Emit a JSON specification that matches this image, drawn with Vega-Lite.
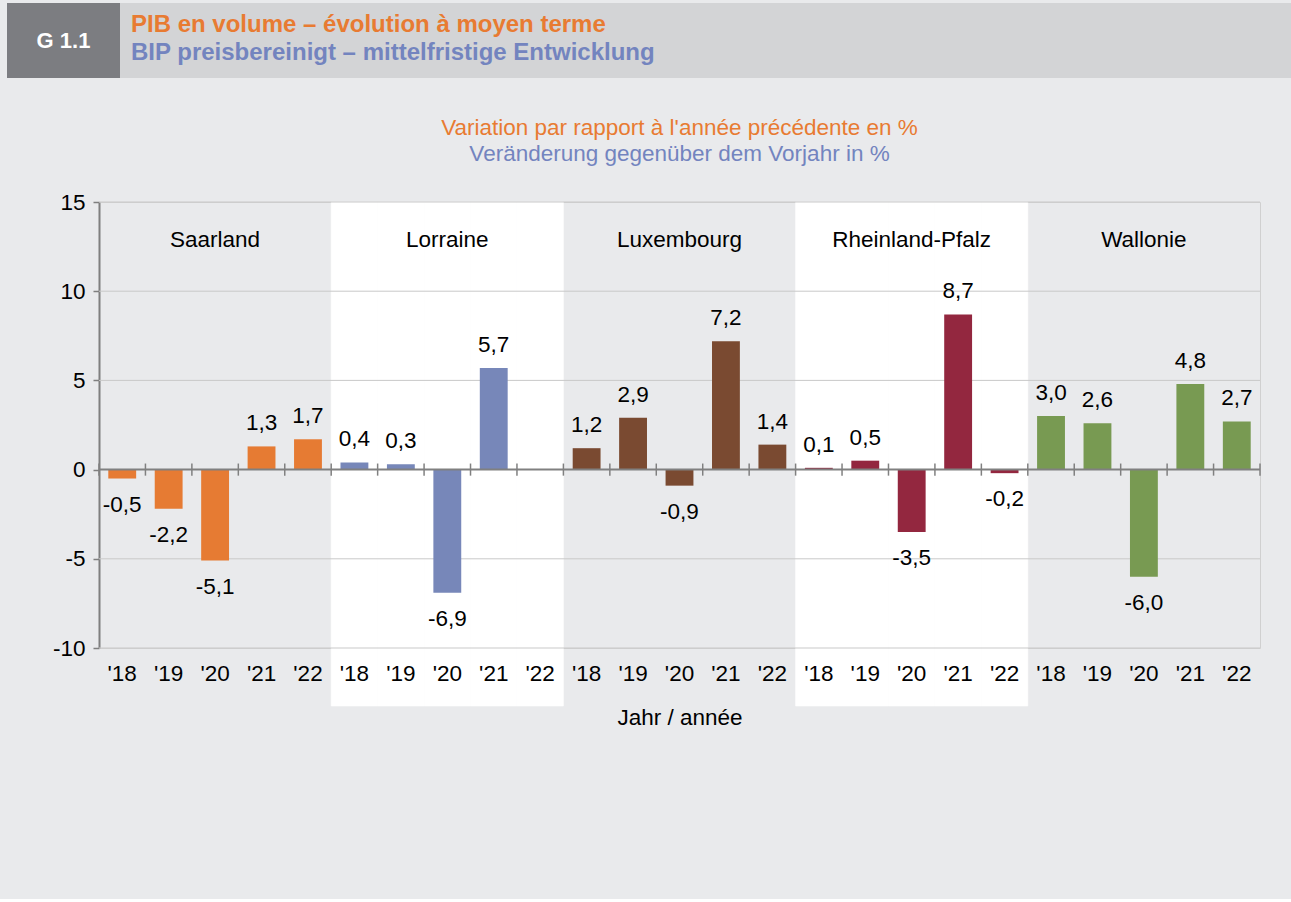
{
  "$schema": "https://vega.github.io/schema/vega-lite/v6.json",
  "background": "#e9eaec",
  "padding": {"left": 7, "top": 3, "right": 0, "bottom": 169},
  "config": {
    "font": "Liberation Sans",
    "locale": {"number": {"decimal": ",", "thousands": ".", "grouping": [3], "currency": ["", " €"], "minus": "-"}},
    "view": {"stroke": null}
  },
  "spacing": 38,
  "vconcat": [
    {
      "spacing": 0,
      "hconcat": [
        {
          "width": 113, "height": 75,
          "view": {"fill": "#7c7d81", "stroke": null},
          "data": {"values": [{"t": "G 1.1"}]},
          "mark": {"type": "text", "color": "white", "fontWeight": "bold", "fontSize": 22, "align": "center", "baseline": "middle"},
          "encoding": {"text": {"field": "t"}}
        },
        {
          "width": 1171, "height": 75,
          "view": {"fill": "#d3d4d6", "stroke": null},
          "title": {
            "text": "PIB en volume – évolution à moyen terme",
            "subtitle": "BIP preisbereinigt – mittelfristige Entwicklung",
            "anchor": "start", "frame": "group", "orient": "top", "offset": -62, "dx": 11,
            "fontSize": 24, "fontWeight": "bold", "color": "#e87b32",
            "subtitleFontSize": 24, "subtitleFontWeight": "bold", "subtitleColor": "#7384bf", "subtitlePadding": 4
          },
          "data": {"values": [{"t": ""}]},
          "mark": {"type": "text"},
          "encoding": {"text": {"field": "t"}}
        }
      ]
    },
    {
      "spacing": 0,
      "hconcat": [
        {
          "width": 0, "height": 0,
          "data": {"values": [{"t": ""}]},
          "mark": {"type": "text"},
          "encoding": {"text": {"field": "t"}}
        },
        {
          "width": 1161, "height": 446,
          "view": {"stroke": "#d0d0d0", "fill": null},
          "title": {
            "text": "Variation par rapport à l'année précédente en %",
            "subtitle": "Veränderung gegenüber dem Vorjahr in %",
            "anchor": "middle", "frame": "group", "offset": 26,
            "fontSize": 22.5, "fontWeight": "normal", "color": "#e87b32",
            "subtitleFontSize": 22.5, "subtitleColor": "#7384bf", "subtitlePadding": 3
          },
          "data": {"values": [
            {"region": "Saarland", "year": 2018, "value": -0.5},
            {"region": "Saarland", "year": 2019, "value": -2.2},
            {"region": "Saarland", "year": 2020, "value": -5.1},
            {"region": "Saarland", "year": 2021, "value": 1.3},
            {"region": "Saarland", "year": 2022, "value": 1.7},
            {"region": "Lorraine", "year": 2018, "value": 0.4},
            {"region": "Lorraine", "year": 2019, "value": 0.3},
            {"region": "Lorraine", "year": 2020, "value": -6.9},
            {"region": "Lorraine", "year": 2021, "value": 5.7},
            {"region": "Lorraine", "year": 2022, "value": null},
            {"region": "Luxembourg", "year": 2018, "value": 1.2},
            {"region": "Luxembourg", "year": 2019, "value": 2.9},
            {"region": "Luxembourg", "year": 2020, "value": -0.9},
            {"region": "Luxembourg", "year": 2021, "value": 7.2},
            {"region": "Luxembourg", "year": 2022, "value": 1.4},
            {"region": "Rheinland-Pfalz", "year": 2018, "value": 0.1},
            {"region": "Rheinland-Pfalz", "year": 2019, "value": 0.5},
            {"region": "Rheinland-Pfalz", "year": 2020, "value": -3.5},
            {"region": "Rheinland-Pfalz", "year": 2021, "value": 8.7},
            {"region": "Rheinland-Pfalz", "year": 2022, "value": -0.2},
            {"region": "Wallonie", "year": 2018, "value": 3.0},
            {"region": "Wallonie", "year": 2019, "value": 2.6},
            {"region": "Wallonie", "year": 2020, "value": -6.0},
            {"region": "Wallonie", "year": 2021, "value": 4.8},
            {"region": "Wallonie", "year": 2022, "value": 2.7}
          ]},
          "transform": [{"calculate": "datum.region + ' ' + datum.year", "as": "key"}],
          "layer": [
            {
              "mark": {"type": "bar", "color": "white", "stroke": "white", "strokeWidth": 0.6},
              "encoding": {
                "x": {
                  "field": "key", "type": "nominal", "sort": null,
                  "scale": {"paddingInner": 0, "paddingOuter": 0},
                  "axis": {
                    "title": "Jahr / année", "zindex": 1,
                    "labelExpr": "\"'\" + slice(datum.value, -2)",
                    "domain": false, "ticks": false, "grid": false, "labelAngle": 0,
                    "labelFontSize": 22.5, "labelColor": "#000", "labelPadding": 14,
                    "titleFontSize": 22.5, "titleFontWeight": "normal", "titleColor": "#000", "titlePadding": 22
                  }
                },
                "y": {
                  "datum": 15, "type": "quantitative",
                  "scale": {"domain": [-10, 15], "nice": false, "zero": false},
                  "axis": {
                    "values": [-10, -5, 0, 5, 10, 15], "title": null, "grid": false, "format": "d",
                    "domainColor": "#7f7f7f", "domainWidth": 2, "tickColor": "#7f7f7f", "tickSize": 6, "tickWidth": 1.5,
                    "labelFontSize": 22.5, "labelColor": "#000", "labelPadding": 8, "minExtent": 71
                  }
                },
                "y2": {"datum": -13.25},
                "opacity": {"condition": {"test": "datum.region === 'Lorraine' || datum.region === 'Rheinland-Pfalz'", "value": 1}, "value": 0}
              }
            },
            {
              "data": {"values": [{"g": -10}, {"g": -5}, {"g": 5}, {"g": 10}, {"g": 15}]},
              "mark": {"type": "rule", "color": "#c9c9c9", "strokeWidth": 1},
              "encoding": {"y": {"field": "g", "type": "quantitative", "title": null}}
            },
            {
              "mark": {"type": "bar", "width": {"band": 0.6}},
              "encoding": {
                "x": {"field": "key", "type": "nominal", "sort": null},
                "y": {"field": "value", "type": "quantitative", "title": null},
                "color": {
                  "field": "region", "type": "nominal", "legend": null,
                  "scale": {"domain": ["Saarland", "Lorraine", "Luxembourg", "Rheinland-Pfalz", "Wallonie"], "range": ["#e67b33", "#7787b9", "#7a4a31", "#93273f", "#789a52"]}
                }
              }
            },
            {
              "data": {"values": [{}]},
              "mark": {"type": "rule", "color": "#808080", "strokeWidth": 2},
              "encoding": {"y": {"datum": 0}}
            },
            {
              "mark": {"type": "rule", "color": "#808080", "strokeWidth": 1.5},
              "encoding": {
                "x": {"field": "key", "type": "nominal", "sort": null, "bandPosition": 0},
                "y": {"datum": -0.34},
                "y2": {"datum": 0.34}
              }
            },
            {
              "transform": [{"filter": "datum.key === 'Wallonie 2022'"}],
              "mark": {"type": "rule", "color": "#808080", "strokeWidth": 1.5},
              "encoding": {
                "x": {"field": "key", "type": "nominal", "sort": null, "bandPosition": 1},
                "y": {"datum": -0.34},
                "y2": {"datum": 0.34}
              }
            },
            {
              "transform": [{"filter": "datum.value !== null && datum.value >= 0"}],
              "mark": {"type": "text", "fontSize": 22.5, "color": "#000", "baseline": "alphabetic", "dy": -16},
              "encoding": {
                "x": {"field": "key", "type": "nominal", "sort": null},
                "y": {"field": "value", "type": "quantitative"},
                "text": {"field": "value", "type": "quantitative", "format": ".1f"}
              }
            },
            {
              "transform": [{"filter": "datum.value !== null && datum.value < 0"}],
              "mark": {"type": "text", "fontSize": 22.5, "color": "#000", "baseline": "alphabetic", "dy": 33},
              "encoding": {
                "x": {"field": "key", "type": "nominal", "sort": null},
                "y": {"field": "value", "type": "quantitative"},
                "text": {"field": "value", "type": "quantitative", "format": ".1f"}
              }
            },
            {
              "transform": [{"filter": "datum.year === 2020"}],
              "mark": {"type": "text", "fontSize": 22.5, "color": "#000", "baseline": "middle"},
              "encoding": {
                "x": {"field": "key", "type": "nominal", "sort": null},
                "y": {"datum": 12.87},
                "text": {"field": "region"}
              }
            }
          ]
        }
      ]
    }
  ]
}
